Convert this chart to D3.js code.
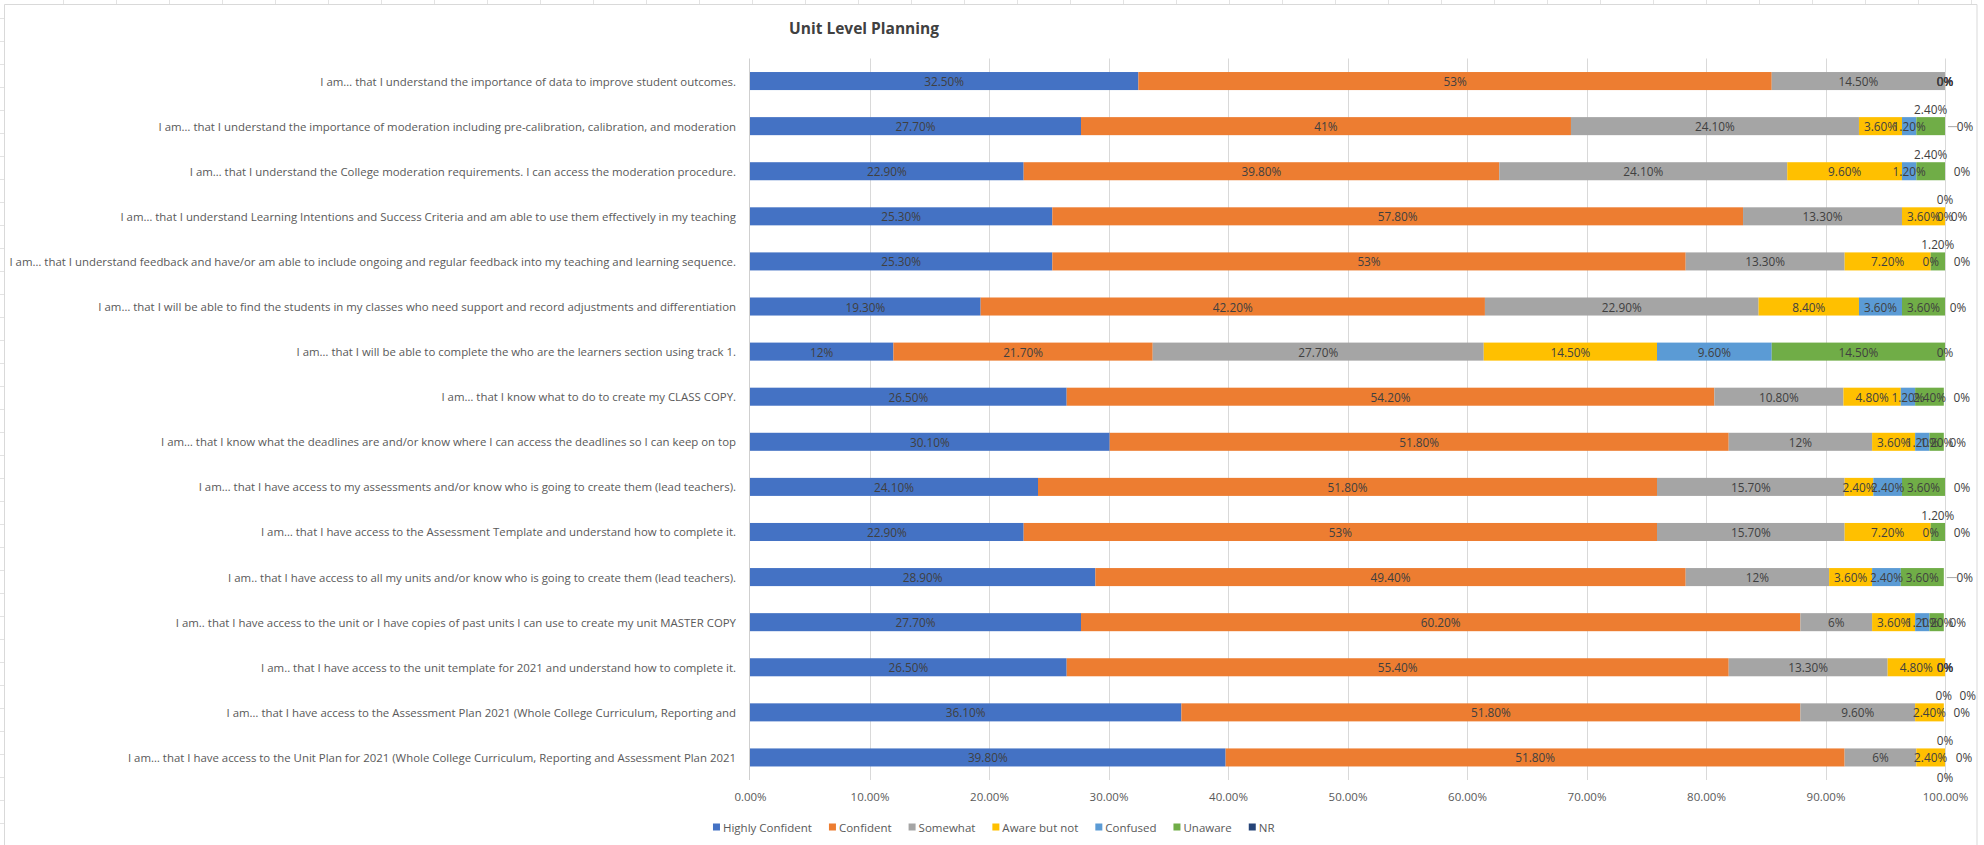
<!DOCTYPE html>
<html>
<head>
<meta charset="utf-8">
<script src="https://cdn.jsdelivr.net/npm/d3@7"></script>
<style>
  html, body { margin: 0; padding: 0; background: #ffffff; }
  svg { display: block; }
  text { font-family: "Open Sans", "Noto Sans", sans-serif; }
</style>
</head>
<body>
<svg id="chart" width="1984" height="845"></svg>
<script>
// ---------------- DATA ----------------
const title = "Unit Level Planning";

const categories = [
  "I am… that I understand the importance of data to improve student outcomes.",
  "I am… that I understand the importance of moderation including pre-calibration, calibration, and moderation",
  "I am… that I understand the College moderation requirements. I can access the moderation procedure.",
  "I am… that I understand Learning Intentions and Success Criteria and am able to use them effectively in my teaching",
  "I am… that I understand feedback and have/or am able to include ongoing and regular feedback into my teaching and learning sequence.",
  "I am… that I will be able to find the students in my classes who need support and record adjustments and differentiation",
  "I am… that I will be able to complete the who are the learners section using track 1.",
  "I am… that I know what to do to create my CLASS COPY.",
  "I am… that I know what the deadlines are and/or know where I can access the deadlines so I can keep on top",
  "I am… that I have access to my assessments and/or know who is going to create them (lead teachers).",
  "I am… that I have access to the Assessment Template and understand how to complete it.",
  "I am.. that I have access to all my units and/or know who is going to create them (lead teachers).",
  "I am.. that I have access to the unit or I have copies of past units I can use to create my unit MASTER COPY",
  "I am.. that I have access to the unit template for 2021 and understand how to complete it.",
  "I am… that I have access to the Assessment Plan 2021 (Whole College Curriculum, Reporting and",
  "I am… that I have access to the Unit Plan for 2021 (Whole College Curriculum, Reporting and Assessment Plan 2021"
];

const seriesNames = ["Highly Confident", "Confident", "Somewhat", "Aware but not", "Confused", "Unaware", "NR"];

const highlyConfident = [32.5, 27.7, 22.9, 25.3, 25.3, 19.3, 12, 26.5, 30.1, 24.1, 22.9, 28.9, 27.7, 26.5, 36.1, 39.8];
const confident       = [53, 41, 39.8, 57.8, 53, 42.2, 21.7, 54.2, 51.8, 51.8, 53, 49.4, 60.2, 55.4, 51.8, 51.8];
const somewhat        = [14.5, 24.1, 24.1, 13.3, 13.3, 22.9, 27.7, 10.8, 12, 15.7, 15.7, 12, 6, 13.3, 9.6, 6];
const awareButNot     = [0, 3.6, 9.6, 3.6, 7.2, 8.4, 14.5, 4.8, 3.6, 2.4, 7.2, 3.6, 3.6, 4.8, 2.4, 2.4];
const confused        = [0, 1.2, 1.2, 0, 0, 3.6, 9.6, 1.2, 1.2, 2.4, 0, 2.4, 1.2, 0, 0, 0];
const unaware         = [0, 2.4, 2.4, 0, 1.2, 3.6, 14.5, 2.4, 1.2, 3.6, 1.2, 3.6, 1.2, 0, 0, 0];
const notResponded    = [0, 0, 0, 0, 0, 0, 0, 0, 0, 0, 0, 0, 0, 0, 0, 0];

const xTickValues = [0, 10, 20, 30, 40, 50, 60, 70, 80, 90, 100];

// ---------------- STYLE ----------------
const seriesColors = ["#4472C4", "#ED7D31", "#A5A5A5", "#FFC000", "#5B9BD5", "#70AD47", "#264478"];

// manual data-label placement (as in the source workbook), in label-size units
const labelNudges = [
  { row: 1, s: 5, dy: -1 }, { row: 1, s: 6, dx: 1, leader: true },
  { row: 2, s: 5, dy: -1 }, { row: 2, s: 6, dx: 0.85 },
  { row: 3, s: 4, dy: -1 }, { row: 3, s: 6, dx: 0.7 },
  { row: 4, s: 5, dy: -1 }, { row: 4, s: 6, dx: 0.85 },
  { row: 5, s: 6, dx: 0.65 },
  { row: 7, s: 6, dx: 0.9 },
  { row: 8, s: 6, dx: 0.7 },
  { row: 9, s: 6, dx: 0.85 },
  { row: 10, s: 5, dy: -1 }, { row: 10, s: 6, dx: 0.85 },
  { row: 11, s: 6, dx: 1.05, leader: true },
  { row: 12, s: 6, dx: 0.7 },
  { row: 14, s: 4, dy: -1.05 }, { row: 14, s: 5, dx: 1.2, dy: -1.05 }, { row: 14, s: 6, dx: 0.9 },
  { row: 15, s: 4, dy: -1.05 }, { row: 15, s: 5, dy: 1.15 }, { row: 15, s: 6, dx: 0.95 }
];

// ---------------- LAYOUT ----------------
const W = 1984, H = 845;
const plot = { left: 750, right: 1945, top: 58.5, bottom: 780 };
const chartBox = { x: 4.5, y: 4.5, w: 1972.5 };

const svg = d3.select("#chart");

// faint spreadsheet cell lines peeking around the chart object
const sheet = svg.append("g").attr("stroke", "#e3e3e3").attr("stroke-width", 1);
sheet.selectAll("line.col").data(d3.range(63, 1984, 53)).join("line")
  .attr("x1", d => d + 0.5).attr("x2", d => d + 0.5).attr("y1", 0).attr("y2", 4);
sheet.selectAll("line.row").data(d3.range(18, 845, 23)).join("line")
  .attr("x1", 0).attr("x2", 4).attr("y1", d => d + 0.5).attr("y2", d => d + 0.5);

// chart area border
svg.append("path")
  .attr("d", `M${chartBox.x},${H + 2}V${chartBox.y}H${chartBox.x + chartBox.w}V${H + 2}`)
  .attr("fill", "none").attr("stroke", "#d9d9d9").attr("stroke-width", 1);

// scales
const x = d3.scaleLinear().domain([0, 100]).range([plot.left, plot.right]);
const y = d3.scaleBand().domain(d3.range(categories.length))
  .range([plot.top, plot.bottom]).paddingInner(0.6).paddingOuter(0.3);

// gridlines
svg.append("g").selectAll("line").data(xTickValues.slice(1)).join("line")
  .attr("x1", d => Math.round(x(d)) + 0.5).attr("x2", d => Math.round(x(d)) + 0.5)
  .attr("y1", plot.top).attr("y2", plot.bottom)
  .attr("stroke", "#d9d9d9").attr("stroke-width", 1);

// stacked data
const seriesArrays = [highlyConfident, confident, somewhat, awareButNot, confused, unaware, notResponded];
const rows = categories.map((c, i) => {
  const r = { i };
  seriesNames.forEach((s, k) => r[s] = seriesArrays[k][i]);
  return r;
});
const stack = d3.stack().keys(seriesNames)(rows);

// bars
const barsG = svg.append("g");
stack.forEach((layer, k) => {
  barsG.append("g").attr("fill", seriesColors[k])
    .selectAll("rect").data(layer).join("rect")
    .attr("x", d => x(d[0]))
    .attr("y", d => y(d.data.i))
    .attr("width", d => Math.max(0, x(d[1]) - x(d[0])))
    .attr("height", y.bandwidth());
});

// category axis line
svg.append("line")
  .attr("x1", Math.round(x(0)) - 0.5).attr("x2", Math.round(x(0)) - 0.5)
  .attr("y1", plot.top).attr("y2", plot.bottom)
  .attr("stroke", "#cfcfcf").attr("stroke-width", 1);

// category labels, sized so the longest label fills the label column
const catG = svg.append("g").attr("fill", "#595959");
const catTexts = catG.selectAll("text").data(categories).join("text")
  .attr("x", 736)
  .attr("y", (d, i) => y(i) + y.bandwidth() / 2)
  .attr("text-anchor", "end")
  .attr("dominant-baseline", "central")
  .style("font-size", "12px")
  .text(d => d);
let maxW = 0;
catTexts.each(function () { maxW = Math.max(maxW, this.getComputedTextLength()); });
const catFont = Math.min(13, 12 * 727 / maxW);
catTexts.style("font-size", catFont + "px");

// data labels
const fmt = v => (Math.abs(v - Math.round(v)) < 1e-9 ? d3.format("d")(v) : d3.format(".2f")(v)) + "%";
const labelFont = 11.8;
const dxUnit = 20, dyUnit = 17;
const labelG = svg.append("g").attr("fill", "#404040");
stack.forEach((layer, k) => {
  layer.forEach(d => {
    const i = d.data.i;
    const nudge = labelNudges.find(n => n.row === i && n.s === k) || {};
    const cx = (x(d[0]) + x(d[1])) / 2 + (nudge.dx || 0) * dxUnit;
    const cy = y(i) + y.bandwidth() / 2 + (nudge.dy || 0) * dyUnit;
    if (nudge.leader) {
      svg.append("line")
        .attr("x1", x(d[1]) + 3).attr("x2", cx - 8)
        .attr("y1", cy + 0.5).attr("y2", cy + 0.5)
        .attr("stroke", "#a6a6a6").attr("stroke-width", 1);
    }
    labelG.append("text")
      .attr("x", cx).attr("y", cy)
      .attr("text-anchor", "middle")
      .attr("dominant-baseline", "central")
      .style("font-size", labelFont + "px")
      .text(fmt(d.data[seriesNames[k]]));
  });
});

// x axis (value) labels
const xAxis = d3.axisBottom(x).tickValues(xTickValues)
  .tickFormat(d => d3.format(".2f")(d) + "%").tickSize(0).tickPadding(13);
const xg = svg.append("g").attr("transform", `translate(0,${plot.bottom})`).call(xAxis);
xg.select(".domain").remove();
xg.selectAll("text").attr("fill", "#595959")
  .style("font-family", "\"Open Sans\", \"Noto Sans\", sans-serif")
  .style("font-size", "11.5px");

// title
svg.append("text")
  .attr("x", 864).attr("y", 28)
  .attr("text-anchor", "middle").attr("dominant-baseline", "central")
  .attr("fill", "#404040")
  .style("font-size", "15.5px").style("font-weight", "bold")
  .text(title);

// legend
const legendY = 827;
const legendG = svg.append("g");
const items = legendG.selectAll("g").data(seriesNames).join("g");
items.append("rect").attr("width", 7).attr("height", 7).attr("y", legendY - 3.5)
  .attr("fill", (d, k) => seriesColors[k]);
items.append("text").attr("x", 10).attr("y", legendY)
  .attr("dominant-baseline", "central").attr("fill", "#595959")
  .style("font-size", "11.5px").text(d => d);
let cursor = 0;
const offsets = [];
items.each(function () {
  offsets.push(cursor);
  const tw = d3.select(this).select("text").node().getComputedTextLength();
  cursor += 10 + tw + 17;
});
const legendWidth = cursor - 17;
const legendStart = (chartBox.x + chartBox.x + chartBox.w) / 2 + 3 - legendWidth / 2;
items.attr("transform", (d, k) => `translate(${legendStart + offsets[k]},0)`);
</script>
</body>
</html>
